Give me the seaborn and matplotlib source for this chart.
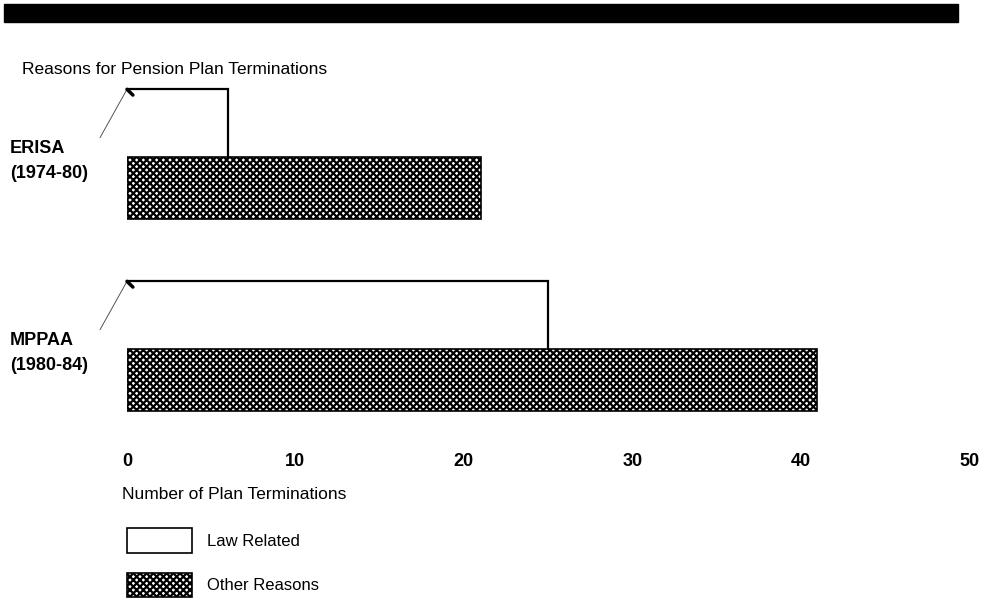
import matplotlib
matplotlib.use("Agg")
import matplotlib.pyplot as plt
from matplotlib.patches import Patch, Rectangle
from matplotlib.transforms import blended_transform_factory
import seaborn as sns

# data
groups = ["ERISA", "MPPAA"]
periods = ["(1974-80)", "(1980-84)"]
law_related = [6, 25]
other_reasons = [21, 41]
ticks = [0, 10, 20, 30, 40, 50]

sns.set_style("white")
plt.rcParams["font.family"] = ["Liberation Sans", "DejaVu Sans"]
plt.rcParams["hatch.linewidth"] = 1.6
plt.rcParams["text.color"] = "black"
plt.rcParams["xtick.color"] = "black"

fig = plt.figure(figsize=(9.93, 6.05), dpi=100)
ax = fig.add_axes([127 / 993, 1 - 450 / 605, 842 / 993, 370 / 605])

bar_h = 0.323
br_h = 0.35
hatch = "xxxxx"

sns.barplot(x=other_reasons, y=groups, orient="h", color="white", saturation=1,
            width=bar_h, edgecolor="black", linewidth=1.2, hatch=hatch, ax=ax)

for i, val in enumerate(law_related):
    top = i - bar_h / 2 - br_h
    bot = i - bar_h / 2
    ax.plot([0, val, val], [top, top, bot], color="black", lw=1.6,
            solid_joinstyle="miter", clip_on=False)
    # leader line to the group label
    ax.plot([-1.6, 0], [i - 0.26, top], color="#555555", lw=0.7, clip_on=False)
    ax.plot([0, 0.35], [top, top + 0.03], color="black", lw=2.5, clip_on=False)

ax.set_xlim(0, 50)
ax.set_ylim(1.367, -0.56)
ax.set_xticks(ticks)
ax.set_xticklabels([str(t) for t in ticks], fontsize=13, fontweight="bold")
ax.set_yticks([])
ax.tick_params(axis="x", length=0, pad=2)
ax.set_xlabel("")
ax.set_ylabel("")
sns.despine(ax=ax, left=True, bottom=True)

trans = blended_transform_factory(fig.transFigure, ax.transData)
for i, (g, p) in enumerate(zip(groups, periods)):
    ax.text(10 / 993, i - 0.205, g, transform=trans, fontsize=13,
            fontweight="bold", va="center", ha="left")
    ax.text(10 / 993, i - 0.075, p, transform=trans, fontsize=13,
            fontweight="bold", va="center", ha="left")

fig.patches.append(Rectangle((4 / 993, 1 - 22 / 605), 954 / 993, 18 / 605,
                             transform=fig.transFigure, color="black"))
fig.text(22 / 993, 1 - 74 / 605, "Reasons for Pension Plan Terminations",
         fontsize=12.5, va="baseline")
fig.text(122 / 993, 1 - 499 / 605, "Number of Plan Terminations",
         fontsize=12.5, va="baseline")

handles = [Patch(facecolor="white", edgecolor="black", lw=1.2),
           Patch(facecolor="white", edgecolor="black", lw=1.2, hatch=hatch)]
fig.legend(handles, ["Law Related", "Other Reasons"], loc="upper left",
           bbox_to_anchor=(127 / 993, 1 - 528 / 605), frameon=False,
           fontsize=12, handlelength=3.9, handleheight=1.9,
           handletextpad=0.9, labelspacing=1.2, borderpad=0, borderaxespad=0)

fig.savefig("out.png", dpi=100)
